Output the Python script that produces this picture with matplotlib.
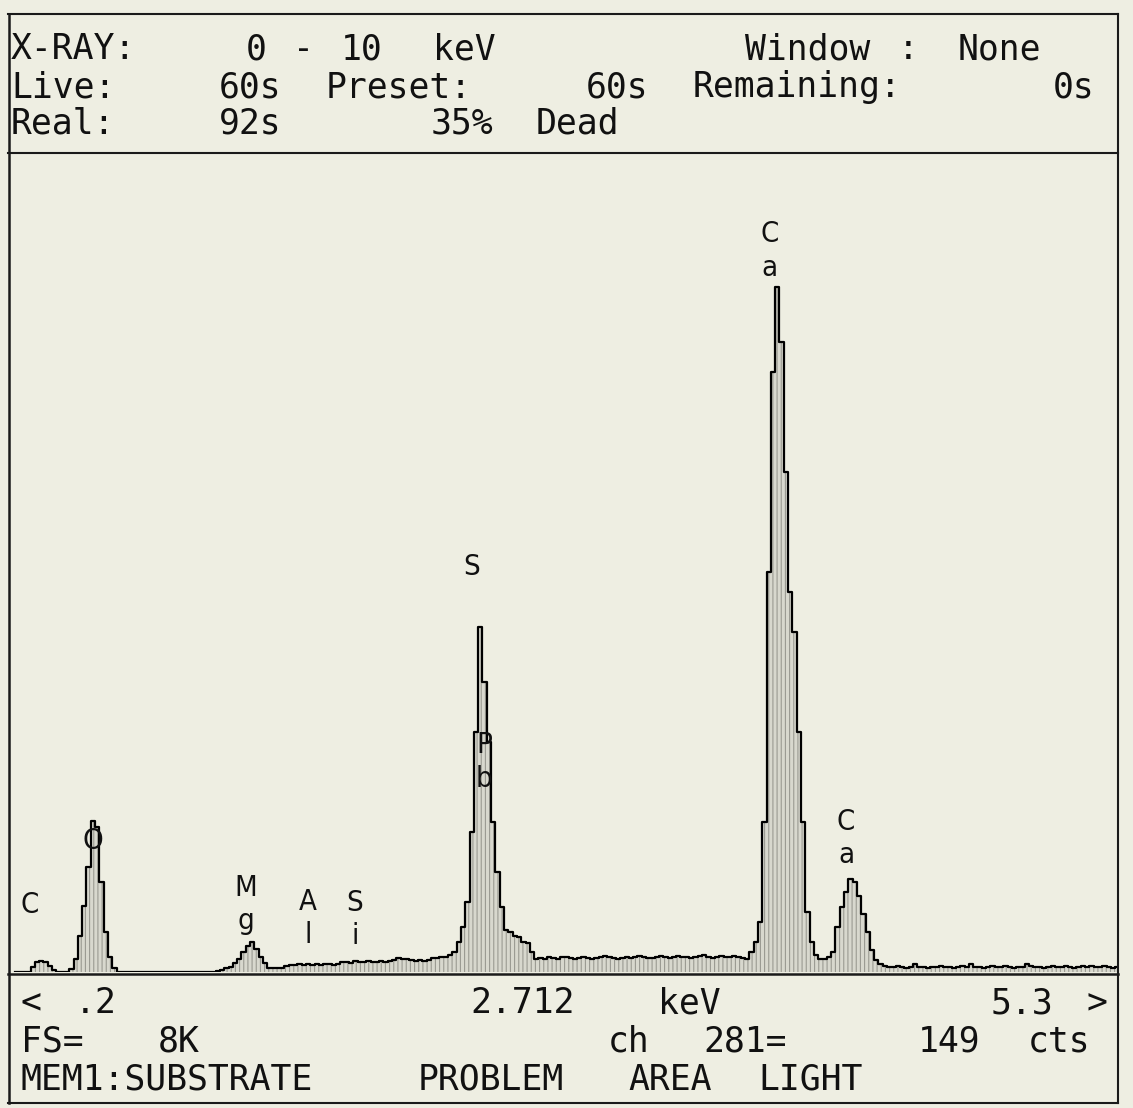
import numpy as np
import matplotlib.pyplot as plt

# EDS spectrum, 20 eV channels starting at 0.16 keV (counts)
e_start = 0.16
ch_width = 0.02

c_o_counts = [0, 0, 0, 0, 50, 100, 110, 100, 60, 20, 0, 0, 0, 30, 130, 360, 660, 1050,
              1510, 1450, 900, 400, 150, 40, 0]
gap_counts = [0, 0, 0, 0, 0, 0, 0, 0, 0, 0, 0, 0, 0, 0, 0, 0, 0, 0, 0, 0, 0, 0, 10]
mg_counts = [20, 40, 50, 90, 130, 200, 260, 300, 230, 150, 90, 40, 40, 40, 40, 60, 70, 70,
             80, 70, 80, 70, 80, 70, 80, 80, 70, 80]
s_counts = [100, 100, 90, 110, 100, 100, 110, 100, 100, 110, 100, 110, 120, 140, 130, 130,
            120, 110, 120, 110, 120, 140, 140, 150, 150, 170, 200, 300, 450, 700, 1400, 2400,
            3450, 2900, 2300, 1500, 1000, 650, 420, 400, 360, 350, 300, 290, 200, 130]
bg_counts = [140, 130, 150, 140, 130, 150, 150, 140, 130, 140, 150, 140, 130, 140, 150, 160,
             150, 140, 130, 140, 150, 140, 150, 160, 150, 140, 140, 150, 160, 150, 140, 150,
             160, 150, 150, 140, 150, 160, 170, 150, 140, 150, 160, 150, 150, 160, 150, 140]
ca_counts = [130, 200, 300, 500, 1500, 4000, 6000, 6850, 6300, 5000, 3800, 3400, 2400, 1500,
             600, 300, 170, 130, 130, 150, 200, 450, 650, 800, 930, 900, 760, 580, 400, 220,
             120, 80]
tail_counts = [60, 50, 50, 60, 50, 40, 50, 80, 50, 50, 40, 50, 50, 60, 50, 50, 40, 50, 60, 50,
               80, 50, 50, 40, 50, 60, 50, 50, 60, 50, 40, 50, 50, 80, 60, 50, 50, 40, 50, 60,
               50, 50, 60, 50, 40, 50, 60, 50, 60, 50, 50, 60, 50, 40, 50]

counts = np.array(c_o_counts + gap_counts + mg_counts + s_counts + bg_counts + ca_counts + tail_counts)
energy = e_start + ch_width * np.arange(len(counts))

# peak identification labels (keV, counts at label centre)
labels = ["C", "O", "Mg", "Al", "Si", "S", "Pb", "Ca", "Ca"]
label_kev = [0.228, 0.520, 1.231, 1.519, 1.738, 2.281, 2.337, 3.662, 4.019]
label_cts = [667, 1313, 677, 537, 527, 4050, 2100, 7214, 1333]

header_rows = [
    [(8, "X-RAY:"), (243, "0"), (290, "-"), (338, "10"), (430, "keV"),
     (742, "Window"), (895, ":"), (955, "None")],
    [(8, "Live:"), (216, "60s"), (323, "Preset:"), (583, "60s"), (690, "Remaining:"), (1050, "0s")],
    [(8, "Real:"), (216, "92s"), (428, "35%"), (533, "Dead")],
]
footer_rows = [
    [(18, "<"), (72, ".2"), (467, "2.712"), (655, "keV"), (988, "5.3"), (1083, ">")],
    [(18, "FS="), (155, "8K"), (605, "ch"), (700, "281="), (915, "149"), (1025, "cts")],
    [(18, "MEM1:SUBSTRATE"), (415, "PROBLEM"), (625, "AREA"), (755, "LIGHT")],
]

W, H = 1133, 1108
bg_col = '#eeeee2'
fig = plt.figure(figsize=(W / 100, H / 100), dpi=100, facecolor=bg_col)

ax = fig.add_axes([9 / W, 1 - 972 / H, (1118 - 9) / W, (972 - 153) / H])
ax.set_facecolor(bg_col)
plt.rcParams['hatch.linewidth'] = 0.8
ax.fill_between(energy, counts, step='mid', facecolor='#d8d8ce', edgecolor='#9a9a92',
                hatch='||||', linewidth=0)
ax.step(energy, counts, where='mid', color='black', lw=1.6)
ax.set_xlim(0.130, 5.283)
ax.set_ylim(0, 8192)
ax.set_xticks([])
ax.set_yticks([])
for s in ['top', 'right', 'bottom', 'left']:
    ax.spines[s].set_visible(False)

for lab, e, c in zip(labels, label_kev, label_cts):
    ax.text(e, c, "\n".join(lab), ha='center', va='center', fontsize=21,
            family='DejaVu Sans', fontstretch='condensed', linespacing=1.25, color='#111111')

# screen frame and readout text, in pixel coordinates
bg = fig.add_axes([0, 0, 1, 1])
bg.set_xlim(0, W)
bg.set_ylim(H, 0)
bg.axis('off')
bg.patch.set_visible(False)
lc = '#1a1a1a'
bg.plot([8, 1118], [14, 14], color=lc, lw=1.5)
bg.plot([8, 1118], [153, 153], color=lc, lw=1.5)
bg.plot([8, 1118], [974, 974], color=lc, lw=1.8)
bg.plot([8, 1118], [1103, 1103], color=lc, lw=1.5)
bg.plot([9, 9], [14, 1103], color=lc, lw=1.8)
bg.plot([1118, 1118], [14, 1103], color=lc, lw=1.5)

for rows, ys in [(header_rows, [49, 87, 124]), (footer_rows, [1003, 1042, 1080])]:
    for row, y in zip(rows, ys):
        for x, s in row:
            bg.text(x + 3, y, s, fontsize=25, family='DejaVu Sans Mono', ha='left', va='center',
                    color='#111111')

fig.savefig('out.png', dpi=100, facecolor=bg_col)
